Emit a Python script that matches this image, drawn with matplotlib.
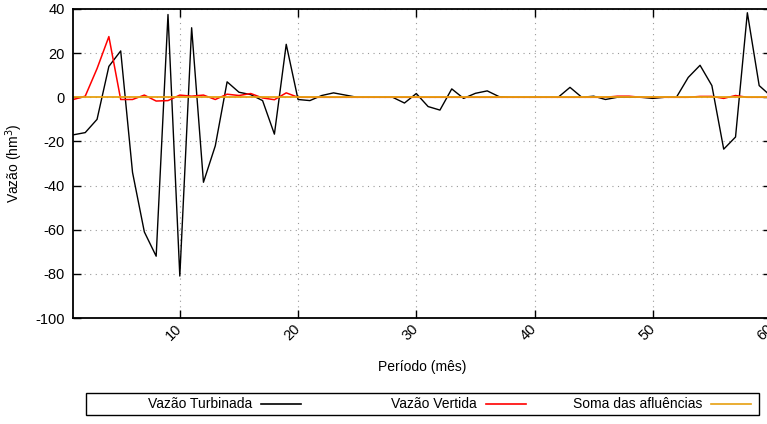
import matplotlib.pyplot as plt
from matplotlib.lines import Line2D
from matplotlib.patches import Rectangle

plt.rcParams['font.family'] = ['Liberation Sans', 'DejaVu Sans']
plt.rcParams['font.size'] = 10
plt.rcParams['axes.unicode_minus'] = False

periodo = list(range(1, 61))

turbinada = [-17, -16, -10, 14, 21, -34, -61, -72, 37.5, -81,
             31.5, -38.5, -22, 7, 2.3, 1.2, -1.5, -16.7, 24, -1,
             -1.5, 0.8, 2, 1, 0, 0, 0, 0, -2.6, 1.7,
             -4.2, -5.8, 3.8, -0.5, 1.8, 2.9, 0.3, 0, 0, 0,
             0, 0, 4.5, 0, 0.5, -1, 0, 0, 0, -0.5,
             0, 0, 9, 14.5, 5.3, -23.5, -18, 38.3, 5.3, 0.5]

vertida = [-1, 0.5, 13, 27.5, -1, -1, 1, -1.7, -1.5, 1,
           0.5, 1, -1, 1.4, 0.8, 1.7, -0.3, -1.1, 2, 0,
           0, 0, 0, 0, 0, 0, 0, 0, 0, 0,
           0, 0, 0, 0, 0, 0, 0, 0, 0, 0,
           0, 0, 0, 0, 0, 0, 0.5, 0.5, 0, 0,
           0, 0, 0, 0.4, 0.4, -0.5, 0.8, 0, 0, 0]

afluencias = [0, 0, 0, 0, 0, 0, 0, 0, 0, 0,
              0, 0, 0, 0, 0, 0, 0, 0, 0, 0,
              0, 0, 0, 0, 0, 0, 0, 0, 0, 0,
              0, 0, 0, 0, 0, 0, 0, 0, 0, 0,
              0, 0, 0, 0, 0, 0, 0, 0, 0, 0,
              0, 0, 0, 0, 0, 0, 0, 0, 0, 0]

nomes = ['Vazão Turbinada', 'Vazão Vertida', 'Soma das afluências']
cores = ['black', '#ff0000', '#e6a010']
xticks = [10, 20, 30, 40, 50, 60]
yticks = [-100, -80, -60, -40, -20, 0, 20, 40]

W, H = 767, 424
fig = plt.figure(figsize=(W / 100, H / 100), dpi=100)
# axes slightly wider than the figure, the right edge gets clipped like the original
ax = fig.add_axes([73.4 / W, (H - 318) / H, (771 - 73.4) / W, (318 - 9) / H])

series = [turbinada, vertida, afluencias]
lws = [1.0, 1.1, 1.3]
for s, c, lw in zip(series, cores, lws):
    ax.plot(periodo, s, color=c, lw=lw)

ax.set_xlim(1, 60)
ax.set_ylim(-100, 40)
ax.set_xticks(xticks)
ax.set_yticks(yticks)
ax.set_xticklabels([str(t) for t in xticks], rotation=45, ha='right',
                   va='center', rotation_mode='anchor')
ax.tick_params(direction='in', length=6, width=1, top=True, right=True, labelsize=10.5)
ax.tick_params(axis='x', pad=6)
ax.tick_params(axis='y', pad=6)
ax.grid(True, color='#999999', linestyle=(0, (1, 4)), linewidth=0.8)
for sp in ax.spines.values():
    sp.set_linewidth(1.3)

fig.text(422 / W, 1 - 367 / H, 'Período (mês)', ha='center', va='center', fontsize=10)
fig.text(14 / W, 1 - 163 / H, 'Vazão (hm$^3$)', rotation=90, ha='center', va='center', fontsize=10)

# gnuplot style key below the plot
fig.patches.append(Rectangle((86 / W, 1 - 415 / H), (759 - 86) / W, 22 / H,
                             transform=fig.transFigure, fill=False, lw=1, ec='black'))
txt_x = [252, 477, 702]
ly = 1 - 404 / H
for nome, c, tx in zip(nomes, cores, txt_x):
    fig.text(tx / W, ly, nome, ha='right', va='center', fontsize=10)
    fig.lines.append(Line2D([(tx + 9) / W, (tx + 49) / W], [ly, ly],
                            transform=fig.transFigure, color=c, lw=1.2))

fig.savefig('out.png', dpi=100)
